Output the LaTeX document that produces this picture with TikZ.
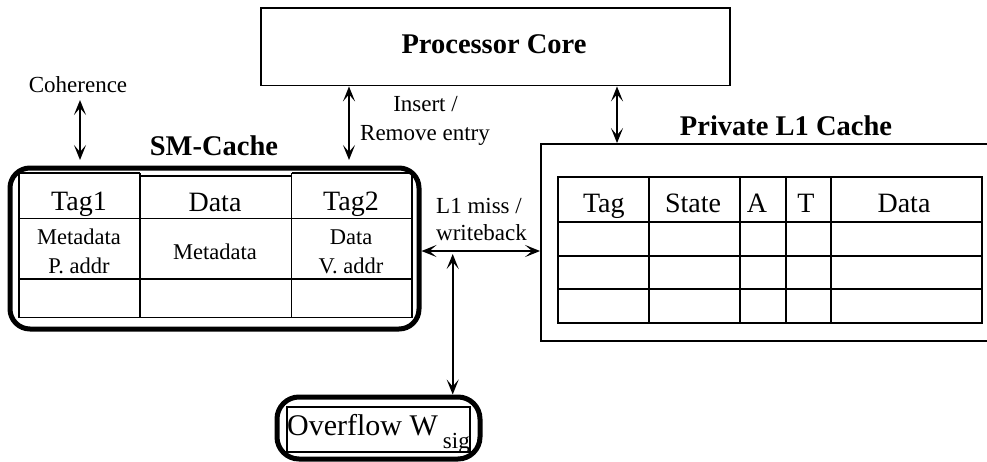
\documentclass[tikz,border=0pt]{standalone}
\usepackage{fontspec}
\setmainfont{Liberation Serif}
\usetikzlibrary{arrows.meta}
\begin{document}
\begin{tikzpicture}[x=1pt,y=-1pt,
  tline/.style={line width=1.8pt},
  biarr/.style={line width=1.8pt,{Stealth[length=15pt,width=12pt,inset=7pt]}-{Stealth[length=15pt,width=12pt,inset=7pt]}},
  titletext/.style={font=\fontsize{28.5}{34}\selectfont\bfseries, inner sep=0pt, anchor=base},
  lbl/.style={font=\fontsize{23}{29}\selectfont, inner sep=0pt, anchor=base},
  hdr/.style={font=\fontsize{28}{34}\selectfont, inner sep=0pt, anchor=base},
  celltext/.style={font=\fontsize{22.5}{29}\selectfont, inner sep=0pt, anchor=base},
  plainbox/.style={draw, line width=1.8pt, rectangle, inner sep=0pt},
  thickbox/.style={draw, line width=5pt, rounded corners=20pt, inner sep=0pt}
]
\useasboundingbox (0,0) rectangle (987,461);
\clip (0,0) rectangle (987,461);

% Processor core
\node[plainbox, minimum width=469pt, minimum height=77.5pt] (proc) at (495.5,46.75) {};
\node[titletext] (proctext) at (494,53) {Processor Core};

% SM-Cache
\node[thickbox, minimum width=409pt, minimum height=161pt] (sm) at (214.5,248.5) {};
\node[titletext] (smtitle) at (214,155.7) {SM-Cache};
\draw[tline] (19,173) -- (140,173) (140,176) -- (291.5,176) (291.5,173) -- (412,173);
\draw[tline] (19,173) -- (19,317.5) (140,173) -- (140,317.5)
             (291.5,173) -- (291.5,317.5) (412,173) -- (412,317.5);
\draw[tline] (19,218.5) -- (412,218.5) (19,279) -- (412,279) (19,317.5) -- (412,317.5);
\node[hdr] (tag1) at (79,210) {Tag1};
\node[hdr] (sdata) at (215,211.5) {Data};
\node[hdr] (tag2) at (351,210) {Tag2};
\node[celltext] (c1a) at (79,244) {Metadata};
\node[celltext] (c1b) at (79,273.3) {P. addr};
\node[celltext] (c2) at (215,259.3) {Metadata};
\node[celltext] (c3a) at (351,244) {Data};
\node[celltext] (c3b) at (351,273.3) {V. addr};

% Private L1 cache
\node[plainbox, minimum width=454pt, minimum height=197pt] (l1) at (768,242.5) {};
\node[titletext] (l1title) at (786,135) {Private L1 Cache};
\draw[tline] (558.3,176.7) rectangle (982,322.7);
\draw[tline] (558.3,221.7) -- (982,221.7) (558.3,255.7) -- (982,255.7) (558.3,289.3) -- (982,289.3);
\draw[tline] (649.3,176.7) -- (649.3,322.7) (740.3,176.7) -- (740.3,322.7)
             (785.7,176.7) -- (785.7,322.7) (830.7,176.7) -- (830.7,322.7);
\node[hdr] (htag) at (603.8,212.7) {Tag};
\node[hdr] (hstate) at (693,212.7) {State};
\node[hdr] (ha) at (757,212.7) {A};
\node[hdr] (ht) at (806,212.7) {T};
\node[hdr] (hdata) at (904,212.7) {Data};

% Overflow
\node[thickbox, rounded corners=22pt, minimum width=203pt, minimum height=62pt] (ovf) at (378.5,428) {};
\node[plainbox, line width=1.5pt, minimum width=183pt, minimum height=45pt, text height=25pt, text depth=14pt]
  (ovfin) at (378.5,429.5) {\fontsize{30}{30}\selectfont Overflow W\,\raisebox{-13pt}{\fontsize{23}{23}\selectfont sig}};

% Labels
\node[lbl] (coh) at (78,92.3) {Coherence};
\node[lbl] (ins1) at (425.5,111) {Insert /};
\node[lbl] (ins2) at (425,140) {Remove entry};
\node[lbl, anchor=base west] (miss1) at (436,213.3) {L1 miss /};
\node[lbl, anchor=base west] (miss2) at (436,240) {writeback};

% Connectors
\coordinate (cohtop) at (80,100);
\coordinate (cohbot) at (80,160);
\draw[biarr] (cohtop) -- (cohbot);
\coordinate (insbot) at (349,160);
\draw[biarr] (insbot |- proc.south) -- (insbot);
\coordinate (pl) at (617,0);
\draw[biarr] (pl |- proc.south) -- (pl |- l1.north);
\coordinate (missy) at (0,251);
\draw[biarr] (sm.east |- missy) -- (l1.west |- missy);
\coordinate (junc) at (452.7,254);
\draw[biarr] (junc) -- (junc |- ovf.north);
\end{tikzpicture}
\end{document}
